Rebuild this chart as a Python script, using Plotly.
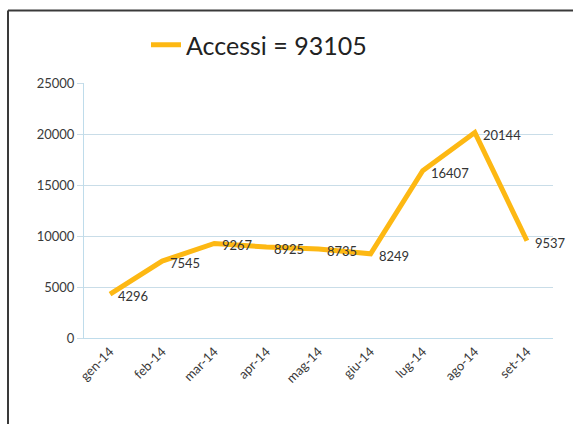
import plotly.graph_objects as go

months = ["gen-14", "feb-14", "mar-14", "apr-14", "mag-14", "giu-14", "lug-14", "ago-14", "set-14"]
accessi = [4296, 7545, 9267, 8925, 8735, 8249, 16407, 20144, 9537]
series_name = "Accessi = 93105"
y_ticks = [0, 5000, 10000, 15000, 20000, 25000]

W, H = 573, 424
L, R, T, B = 84, 20, 83, 86
pw, ph = W - L - R, H - T - B

def px_x(v):
    return (v - L) / pw

def px_y(v):
    return 1 - (v - T) / ph

fig = go.Figure()
fig.add_trace(go.Scatter(
    x=months, y=accessi, mode="lines", name=series_name,
    line=dict(color="#FDB813", width=5),
    showlegend=True, hoverinfo="skip",
))

annotations = [
    dict(x=m, y=v, xref="x", yref="y", text=str(v), showarrow=False,
         xanchor="left", yanchor="middle", xshift=6, yshift=-2,
         font=dict(family="Lato, sans-serif", size=13, color="#333333"))
    for m, v in zip(months, accessi)
]

frame = dict(color="#3A3A3A", width=2)
fig.update_layout(
    width=W, height=H,
    margin=dict(l=L, r=R, t=T, b=B),
    paper_bgcolor="white", plot_bgcolor="white",
    font=dict(family="Lato, sans-serif", color="#444444"),
    legend=dict(
        orientation="h", x=px_x(146), xanchor="left", y=px_y(45), yanchor="middle",
        font=dict(size=25, color="#222222"), itemwidth=30,
        bgcolor="rgba(0,0,0,0)",
    ),
    xaxis=dict(
        type="category", showgrid=False, tickangle=-45,
        tickfont=dict(size=13, color="#3A3A3A"),
        showline=True, linecolor="#BFDCEB", linewidth=1, ticks="",
        range=[-0.5, len(months) - 0.5],
    ),
    yaxis=dict(
        range=[0, 25000], tickvals=y_ticks, ticktext=[str(v) for v in y_ticks],
        showgrid=True, gridcolor="#C9DDE8", gridwidth=1,
        showline=True, linecolor="#BFDCEB", linewidth=1,
        zeroline=False, ticks="outside", ticklen=6, tickcolor="#C9DDE8",
        tickfont=dict(size=13, color="#3A3A3A"),
    ),
    annotations=annotations,
    shapes=[
        dict(type="line", xref="paper", yref="paper",
             x0=px_x(8), x1=px_x(W + 5), y0=px_y(10.5), y1=px_y(10.5), line=frame),
        dict(type="line", xref="paper", yref="paper",
             x0=px_x(8), x1=px_x(8), y0=px_y(10.5), y1=px_y(H + 5), line=frame),
    ],
)

fig.write_html("out.html", config={"displayModeBar": False})
